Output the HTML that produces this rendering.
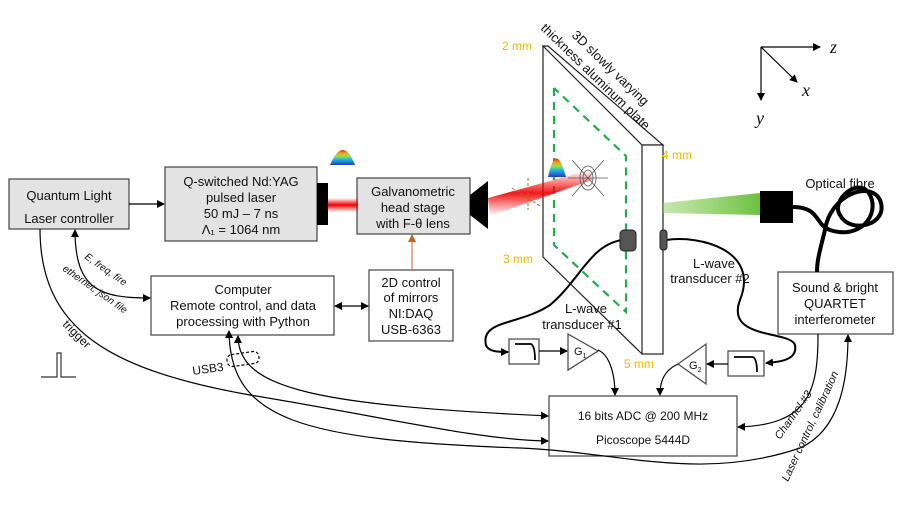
<!DOCTYPE html>
<html><head><meta charset="utf-8"><style>
html,body{margin:0;padding:0;background:#fff}
svg{display:block}
text{font-family:"Liberation Sans",sans-serif;fill:#111}
</style></head><body>
<svg width="897" height="505" viewBox="0 0 897 505" xmlns="http://www.w3.org/2000/svg">
<defs>
<marker id="a" markerWidth="8" markerHeight="8" refX="7" refY="4" orient="auto" markerUnits="userSpaceOnUse"><path d="M0,0 L8,4 L0,8z" fill="#000"/></marker>
<marker id="ao" markerWidth="8" markerHeight="8" refX="7" refY="4" orient="auto" markerUnits="userSpaceOnUse"><path d="M0,0 L8,4 L0,8z" fill="#c0651f"/></marker>
<marker id="as" markerWidth="8" markerHeight="8" refX="1" refY="4" orient="auto" markerUnits="userSpaceOnUse"><path d="M8,0 L0,4 L8,8z" fill="#000"/></marker>
<linearGradient id="red" x1="0" y1="0" x2="0" y2="1"><stop offset="0" stop-color="#f00" stop-opacity="0"/><stop offset=".5" stop-color="#e00"/><stop offset="1" stop-color="#f00" stop-opacity="0"/></linearGradient>
<linearGradient id="grn" x1="0" x2="1"><stop offset="0" stop-color="#8fd060" stop-opacity=".5"/><stop offset="1" stop-color="#6cc040"/></linearGradient>
<linearGradient id="bell" x1="0" y1="1" x2="0" y2="0"><stop offset="0" stop-color="#2040c0"/><stop offset=".35" stop-color="#20b0e0"/><stop offset=".6" stop-color="#a0e040"/><stop offset=".8" stop-color="#f0a020"/><stop offset="1" stop-color="#e02010"/></linearGradient>
</defs>
<g fill="none" stroke="#000" stroke-width="1.2">
<rect x="9" y="179" width="120" height="50" fill="#e3e3e3" stroke="#444"/>
<rect x="165" y="167" width="152" height="74" fill="#e3e3e3" stroke="#444"/>
<rect x="357" y="178" width="113" height="56" fill="#e3e3e3" stroke="#444"/>
<rect x="151" y="276" width="183" height="59" stroke="#444"/>
<rect x="369" y="270" width="84" height="71" stroke="#444"/>
<rect x="778" y="272" width="115" height="62" stroke="#444"/>
<rect x="549" y="396" width="188" height="60" stroke="#444"/>
<line x1="129" y1="204" x2="164" y2="204" marker-end="url(#a)"/>
<line x1="335" y1="306" x2="368" y2="306" marker-start="url(#as)" marker-end="url(#a)"/>
<line x1="412" y1="270" x2="412" y2="235" stroke="#d08050" marker-end="url(#ao)"/>
<path d="M75,230 C75,290 100,298 150,298" marker-start="url(#as)" marker-end="url(#a)"/>
<path d="M40,229 C40,330 110,370 250,395 C400,420 480,440 548,441" marker-end="url(#a)"/>
<path d="M238,336 C238,390 320,405 548,416" marker-start="url(#as)" marker-end="url(#a)"/>
<path d="M229,331 C230,420 300,440 520,448 C620,452 700,482 800,448 C840,430 848,380 848,335" marker-start="url(#as)" marker-end="url(#a)"/>
<rect x="227" y="353" width="32" height="12" rx="5" stroke-dasharray="3,2" transform="rotate(-8 243 359)"/>
<path d="M818,334 C818,390 810,425 738,427" marker-end="url(#a)"/>
<path d="M793,207 C820,207 815,225 830,230 C860,240 880,215 870,195 C860,175 830,200 840,215 C850,235 890,225 880,200 C870,180 830,195 825,230 C820,250 817,260 817,272" stroke-width="4"/>
<path d="M41,377 H57 V353 H61 V377 H76" stroke="#333"/>
<path d="M543,46 V257 L642,354" stroke="#222"/>
<path d="M543,46 L642,145 H663 L548,46 Z" stroke="#222" fill="#fff"/>
<rect x="642" y="145" width="21" height="209" fill="#fff" stroke="#222"/>
<path d="M554,88 V245 L626,312 V156 L554,88" stroke="#1fae4a" stroke-width="2.2" stroke-dasharray="8,6"/>
<path d="M622,240 C590,245 580,280 550,305 C520,325 480,320 486,345 C488,352 500,352 508,352" stroke-width="2" marker-end="url(#a)"/>
<path d="M666,240 C700,235 760,250 740,300 C725,340 790,330 795,345 C798,360 780,362 766,363" stroke-width="2" marker-end="url(#a)"/>
<rect x="509" y="339" width="30" height="25" stroke="#444"/>
<path d="M515,344 H531 Q535,346 535,360" stroke-width="1.8"/>
<line x1="539" y1="351" x2="567" y2="351" marker-end="url(#a)"/>
<path d="M568,334 V370 L598,351 Z" stroke="#444"/>
<path d="M598,350 C610,355 615,375 615,395" marker-end="url(#a)"/>
<rect x="728" y="351" width="36" height="25" stroke="#444"/>
<path d="M734,357 H753 Q757,359 757,372" stroke-width="1.8"/>
<line x1="728" y1="364" x2="707" y2="364" marker-end="url(#a)"/>
<path d="M706,344 V384 L678,364 Z" stroke="#444"/>
<path d="M678,364 C665,370 660,380 660,395" marker-end="url(#a)"/>
<line x1="761" y1="47" x2="820" y2="47" marker-end="url(#a)"/>
<line x1="761" y1="47" x2="761" y2="100" marker-end="url(#a)"/>
<line x1="761" y1="47" x2="797" y2="82" marker-end="url(#a)"/>
</g>
<rect x="620" y="230" width="16" height="21" rx="4" fill="#555" stroke="#222"/>
<rect x="660" y="230" width="7" height="20" rx="3" fill="#555" stroke="#222"/>
<rect x="317" y="183" width="11" height="42" fill="#000"/>
<rect x="328" y="198" width="30" height="14" fill="url(#red)"/>
<path d="M470,195 L488,181 V229 L470,215 Z" fill="#000"/>
<polygon points="488,198 590,170 592,180 490,216" fill="url(#red)" opacity=".9"/>
<polygon points="663,203 760,193 760,215 663,213" fill="url(#grn)"/>
<rect x="760" y="191" width="33" height="32" fill="#000"/>
<path d="M330,165 Q343,135 355,165 Z" fill="url(#bell)"/>
<path d="M548,177 Q556,140 566,177 Z" fill="url(#bell)"/>
<g stroke="#555" fill="none" stroke-width=".8"><ellipse cx="588" cy="178" rx="8" ry="12"/><ellipse cx="588" cy="178" rx="5" ry="8"/><line x1="572" y1="160" x2="604" y2="196"/><line x1="572" y1="196" x2="604" y2="160"/><line x1="568" y1="178" x2="608" y2="178"/></g>
<g stroke="#c0651f" stroke-dasharray="3,2" fill="none"><line x1="528" y1="178" x2="528" y2="210"/><line x1="512" y1="188" x2="540" y2="206"/></g>
<g font-size="13" text-anchor="middle">
<text x="69" y="200">Quantum Light</text><text x="69" y="223">Laser controller</text>
<text x="241" y="186">Q-switched Nd:YAG</text><text x="241" y="202">pulsed laser</text><text x="241" y="218">50 mJ – 7 ns</text><text x="241" y="234">Λ₁ = 1064 nm</text>
<text x="413" y="196">Galvanometric</text><text x="413" y="212">head stage</text><text x="413" y="228">with F-θ lens</text>
<text x="243" y="294">Computer</text><text x="243" y="310">Remote control, and data</text><text x="243" y="326">processing with Python</text>
<text x="411" y="287">2D control</text><text x="411" y="302">of mirrors</text><text x="411" y="318">NI:DAQ</text><text x="411" y="334">USB-6363</text>
<text x="835" y="292">Sound &amp; bright</text><text x="835" y="308">QUARTET</text><text x="835" y="324">interferometer</text>
<text x="643" y="420" font-size="12">16 bits ADC @ 200 MHz</text><text x="643" y="444" font-size="12">Picoscope 5444D</text>
<text x="840" y="188">Optical fibre</text>
<text x="714" y="268">L-wave</text><text x="710" y="283">transducer #2</text>
<text x="586" y="313">L-wave</text><text x="582" y="329">transducer #1</text>
</g>
<g font-size="12"><text x="502" y="50" style="fill:#f5b400">2 mm</text><text x="662" y="159" style="fill:#f5b400">4 mm</text><text x="503" y="263" style="fill:#f5b400">3 mm</text><text x="624" y="368" style="fill:#f5b400">5 mm</text></g>
<text x="571" y="36" font-size="13" transform="rotate(44 571 36)">3D slowly varying</text>
<text x="540" y="29" font-size="13" transform="rotate(44 540 29)">thickness aluminum plate</text>
<g font-size="10" font-style="italic">
<text x="84" y="258" transform="rotate(35 84 258)">E, freq, fire</text>
<text x="62" y="270" transform="rotate(35 62 270)">ethernet, json file</text>
<text x="780" y="440" transform="rotate(-55 780 440)" font-size="11">Channel #3</text>
<text x="788" y="482" transform="rotate(-65 788 482)" font-size="11">Laser control, calibration</text>
</g>
<text x="62" y="325" font-size="12" transform="rotate(45 62 325)">trigger</text>
<text x="193" y="375" font-size="12" transform="rotate(-8 193 375)">USB3</text>
<text x="574" y="355" font-size="11">G<tspan font-size="7" dy="3">1</tspan></text>
<text x="689" y="369" font-size="11">G<tspan font-size="7" dy="3">2</tspan></text>
<g font-style="italic" font-size="18"><text x="830" y="53" style="font-family:'Liberation Serif'">z</text><text x="802" y="96" style="font-family:'Liberation Serif'">x</text><text x="756" y="124" style="font-family:'Liberation Serif'">y</text></g>
</svg>
</body></html>
